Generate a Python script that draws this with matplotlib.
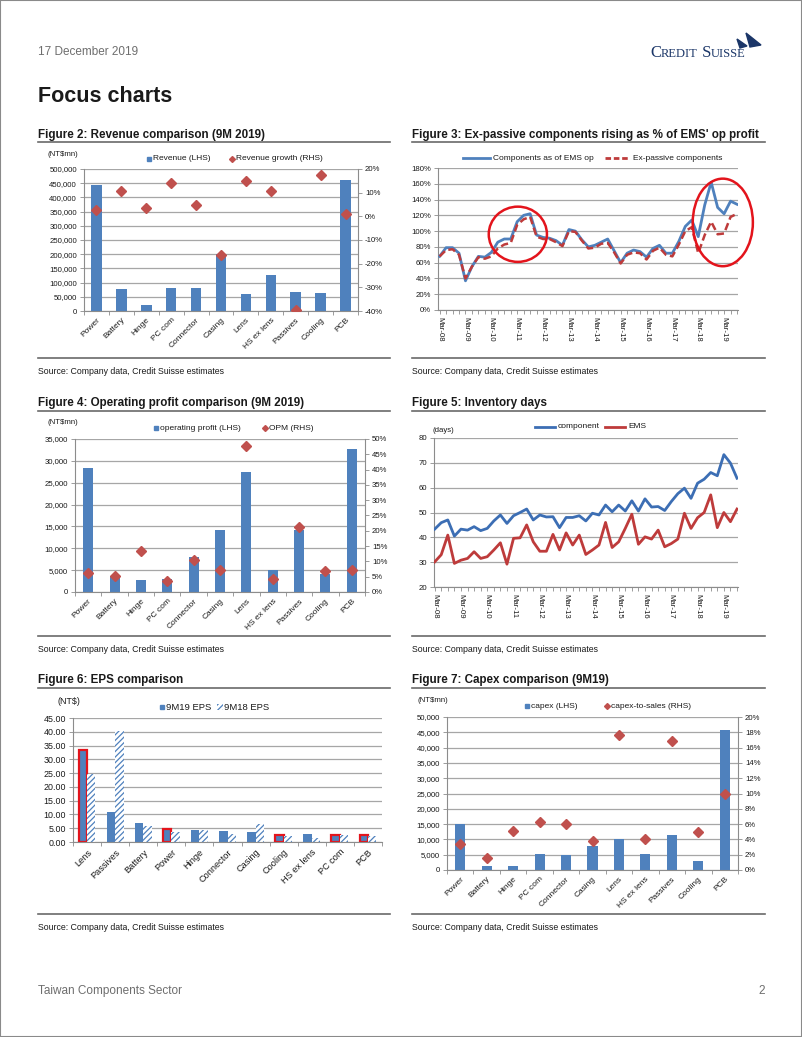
import numpy as np
import matplotlib
matplotlib.use("Agg")
import matplotlib.pyplot as plt
from matplotlib.patches import Ellipse, Polygon, Rectangle
from matplotlib.lines import Line2D
from matplotlib.ticker import FuncFormatter, MultipleLocator

plt.rcParams['font.family'] = ['Liberation Sans', 'DejaVu Sans']
plt.rcParams['hatch.linewidth'] = 0.9

# ---- data ----
categories = ['Power', 'Battery', 'Hinge', 'PC com', 'Connector', 'Casing',
              'Lens', 'HS ex lens', 'Passives', 'Cooling', 'PCB']

revenue = [443000, 76000, 21000, 80000, 80000, 199000,
           60000, 127000, 68000, 62000, 460000]
revenue_growth = [2.7, 10.5, 3.5, 14.0, 4.9, -16.4, 15.0, 10.8, -39.4, 17.3, 0.9]

op_profit = [28300, 3600, 2750, 3050, 8050, 14200, 27500, 5100, 14200, 4050, 32700]
opm = [6.3, 5.1, 13.5, 3.7, 10.3, 7.1, 47.6, 4.4, 21.3, 6.9, 7.1]

capex = [14900, 1300, 1300, 5200, 4900, 7800, 10100, 5200, 11600, 3000, 45900]
capex_to_sales = [3.4, 1.6, 5.1, 6.3, 6.0, 3.8, 17.7, 4.1, 16.9, 5.0, 10.0]

eps_categories = ['Lens', 'Passives', 'Battery', 'Power', 'Hinge', 'Connector',
                  'Casing', 'Cooling', 'HS ex lens', 'PC com', 'PCB']
eps_9m19 = [33.3, 10.9, 6.9, 4.7, 4.5, 4.0, 3.6, 2.7, 3.0, 2.4, 2.4]
eps_9m18 = [24.8, 40.4, 5.9, 3.5, 4.4, 3.0, 6.5, 2.1, 1.5, 2.7, 2.1]
eps_flagged = ['Lens', 'Power', 'Cooling', 'PC com', 'PCB']

quarters = [f"{m}-{y:02d}" for y in range(8, 20) for m in ('Mar', 'Jun', 'Sep', 'Dec')][:47]

comp_share = [68, 79, 79, 72, 37, 55, 68, 67, 73, 86, 90, 90,
              112, 120, 122, 95, 92, 91, 88, 82, 102, 100, 89, 80,
              82, 86, 90, 75, 60, 72, 76, 74, 67, 78, 82, 72,
              72, 87, 106, 114, 93, 133, 162, 130, 122, 138, 134]
ex_passive = [68, 76, 77, 70, 40, 55, 67, 65, 68, 78, 83, 85,
              108, 115, 118, 93, 90, 90, 86, 81, 100, 99, 88, 78,
              79, 84, 85, 73, 59, 70, 73, 72, 64, 75, 79, 70,
              68, 83, 100, 105, 72, 95, 112, 96, 97, 118, 122]

inv_component = [43.3, 45.9, 47.0, 40.5, 43.3, 42.9, 44.3, 42.7, 43.6, 46.6, 49.0, 45.6,
                 48.7, 50.0, 51.4, 47.0, 49.0, 48.2, 48.3, 43.9, 48.0, 48.0, 48.7, 46.6,
                 49.7, 49.0, 53.0, 50.3, 53.0, 50.6, 54.7, 50.6, 55.5, 52.2, 52.4, 50.8,
                 54.4, 57.6, 59.8, 55.7, 61.8, 63.4, 66.1, 64.8, 73.3, 69.9, 63.8]
inv_ems = [30.1, 33.0, 40.9, 29.5, 30.8, 31.5, 34.2, 31.5, 32.2, 34.9, 37.8, 29.2,
           39.6, 39.8, 45.0, 38.2, 34.4, 34.4, 41.2, 34.9, 41.8, 36.9, 40.9, 33.1,
           34.9, 36.9, 46.0, 35.9, 38.2, 43.6, 49.3, 37.2, 40.2, 39.3, 42.9, 36.2,
           37.5, 39.3, 49.7, 43.6, 47.9, 50.0, 57.1, 43.9, 50.0, 46.3, 51.4]

# ---- styling ----
W, H = 802, 1037
BLUE = '#4F81BD'
RED = '#C0504D'
LINE_RED = '#BE3B3B'
CIRCLE = '#E3141C'
GRID = '#A6A6A6'
AXC = '#8C8C8C'
TXT = '#1A1A1A'
GREYTXT = '#6E6E6E'
NAVY = '#1B3668'
TICK = 5.6

fig = plt.figure(figsize=(W / 100, H / 100), dpi=100)
renderer = fig.canvas.get_renderer()


def fx(x):
    return x / W


def fy(y):
    return 1 - y / H


def box(l, t, r, b):
    return [l / W, 1 - b / H, (r - l) / W, (b - t) / H]


def ftext(x, y, s, **kw):
    kw.setdefault('va', 'center')
    kw.setdefault('color', TXT)
    return fig.text(fx(x), fy(y), s, **kw)


def hline(x0, x1, y, color='#6A6A6A', lw=1.4):
    fig.add_artist(Line2D([fx(x0), fx(x1)], [fy(y), fy(y)], color=color, lw=lw,
                          transform=fig.transFigure))


def leg_marker(x, y, marker, label, ms, color=BLUE, size=6):
    fig.add_artist(Line2D([fx(x)], [fy(y)], marker=marker, ms=ms, color=color,
                          mec=color, ls='none', transform=fig.transFigure))
    ftext(x + 4, y, label, fontsize=size)


def leg_line(x0, x1, y, label, color, ls='-', size=6):
    fig.add_artist(Line2D([fx(x0), fx(x1)], [fy(y), fy(y)], color=color, lw=2, ls=ls,
                          transform=fig.transFigure))
    ftext(x1 + 3, y, label, fontsize=size)


def small_caps(x_right, y, parts, **kw):
    # measure first, then lay the pieces out so the run ends at x_right
    widths = []
    for s, size in parts:
        t = fig.text(0, 0, s, fontsize=size, **kw)
        widths.append(t.get_window_extent(renderer).width)
        t.remove()
    x = x_right - sum(widths)
    for (s, size), w in zip(parts, widths):
        fig.text(fx(x), fy(y), s, fontsize=size, va='baseline', **kw)
        x += w


def base_style(ax, right=False):
    ax.spines['top'].set_visible(False)
    ax.spines['right'].set_visible(right)
    for s in ('left', 'bottom', 'right'):
        ax.spines[s].set_color(AXC)
        ax.spines[s].set_linewidth(0.8)
    ax.tick_params(labelsize=TICK, colors=AXC, labelcolor=TXT, length=3, width=0.6, pad=2)
    ax.grid(axis='y', color=GRID, lw=0.9)
    ax.set_axisbelow(True)
    ax.set_facecolor('none')


def category_axis(ax, labels, size=6):
    n = len(labels)
    ax.set_xlim(-0.5, n - 0.5)
    ax.set_xticks(np.arange(n))
    ax.set_xticklabels(labels, rotation=45, ha='right', rotation_mode='anchor', fontsize=size)
    ax.tick_params(axis='x', which='major', length=0, pad=4)
    ax.set_xticks(np.arange(-0.5, n), minor=True)
    ax.tick_params(axis='x', which='minor', length=3, color=AXC, width=0.6)


def right_axis(ax, lo, hi, step):
    ax2 = ax.twinx()
    for s in ('top', 'left', 'bottom'):
        ax2.spines[s].set_visible(False)
    ax2.spines['right'].set_color(AXC)
    ax2.spines['right'].set_linewidth(0.8)
    ax2.set_ylim(lo, hi)
    ax2.yaxis.set_major_locator(MultipleLocator(step))
    ax2.yaxis.set_major_formatter(FuncFormatter(lambda v, p: f"{v:.0f}%"))
    ax2.tick_params(labelsize=TICK, colors=AXC, labelcolor=TXT, length=3, width=0.6, pad=2)
    return ax2


def time_axis(ax, labels):
    n = len(labels)
    ax.set_xticks(np.arange(0, n, 4))
    ax.set_xticklabels(labels[::4], rotation=-90, ha='center', va='top', fontsize=TICK)
    ax.tick_params(axis='x', which='major', length=3, pad=2)
    ax.set_xticks(np.arange(n), minor=True)
    ax.tick_params(axis='x', which='minor', length=3, color=AXC, width=0.6)


comma = FuncFormatter(lambda v, p: f"{v:,.0f}")
pct = FuncFormatter(lambda v, p: f"{v:.0f}%")

# ---- page header / footer ----
fig.add_artist(Rectangle((0, 0), 1, 1, fill=False, ec='#8A8A8A', lw=1.5,
                         transform=fig.transFigure))
ftext(38, 52, '17 December 2019', fontsize=8.5, color=GREYTXT)
ftext(38, 97, 'Focus charts', fontsize=15.5, weight='bold')
small_caps(746, 57, [('C', 12), ('REDIT', 9), (' S', 12), ('UISSE', 9)],
           color=NAVY, family=['Liberation Serif', 'DejaVu Serif'])
# small sail mark above the end of the name
fig.add_artist(Polygon([(fx(746), fy(33)), (fx(761), fy(45)), (fx(750), fy(47))],
                       closed=True, color=NAVY, transform=fig.transFigure))
fig.add_artist(Polygon([(fx(737), fy(39)), (fx(747), fy(46)), (fx(740), fy(48))],
                       closed=True, color=NAVY, transform=fig.transFigure))
ftext(38, 991, 'Taiwan Components Sector', fontsize=8.5, color=GREYTXT)
ftext(765, 991, '2', fontsize=8.5, color=GREYTXT, ha='right')

titles = [
    (38, 390, 135, 142, 372, 'Figure 2: Revenue comparison (9M 2019)'),
    (412, 765, 135, 142, 372, "Figure 3: Ex-passive components rising as % of EMS' op profit"),
    (38, 390, 403, 411, 650, 'Figure 4: Operating profit comparison (9M 2019)'),
    (412, 765, 403, 411, 650, 'Figure 5: Inventory days'),
    (38, 390, 680, 688, 928, 'Figure 6: EPS comparison'),
    (412, 765, 680, 688, 928, 'Figure 7: Capex comparison (9M19)'),
]
for x0, x1, ty, ry, sy, t in titles:
    ftext(x0, ty, t, fontsize=8.4, weight='bold')
    hline(x0, x1, ry, lw=1.2)
    hline(x0, x1, sy - 14, lw=1.2)
    ftext(x0, sy, 'Source: Company data, Credit Suisse estimates', fontsize=6.3)

x11 = np.arange(len(categories))

# ---- Figure 2 ----
ax = fig.add_axes(box(84, 169, 358, 311))
base_style(ax)
ax.bar(x11, revenue, width=0.42, color=BLUE, zorder=2)
ax.set_ylim(0, 500000)
ax.yaxis.set_major_locator(MultipleLocator(50000))
ax.yaxis.set_major_formatter(comma)
category_axis(ax, categories)
ax2 = right_axis(ax, -40, 20, 10)
ax2.plot(x11, revenue_growth, 'D', color=RED, ms=5, zorder=3)
ftext(48, 154, '(NT$mn)', fontsize=5.6)
leg_marker(149, 159, 's', 'Revenue (LHS)', 3)
leg_marker(232, 159, 'D', 'Revenue growth (RHS)', 3, color=RED)

# ---- Figure 3 ----
ax = fig.add_axes(box(438, 168, 738, 310))
base_style(ax)
t = np.arange(len(quarters))
ax.plot(t, comp_share, color=BLUE, lw=2, zorder=3)
ax.plot(t, ex_passive, color=LINE_RED, lw=1.8, ls=(0, (3, 1.5)), zorder=3)
ax.set_xlim(-0.25, len(quarters) - 0.85)
ax.set_ylim(0, 180)
ax.yaxis.set_major_locator(MultipleLocator(20))
ax.yaxis.set_major_formatter(pct)
time_axis(ax, quarters)
ax.add_patch(Ellipse((12.1, 96), 9.0, 70, fill=False, ec=CIRCLE, lw=1.8, clip_on=False, zorder=4))
ax.add_patch(Ellipse((43.8, 111), 9.3, 111, fill=False, ec=CIRCLE, lw=1.8, clip_on=False, zorder=4))
leg_line(463, 490, 158, 'Components as of EMS op', BLUE)
leg_line(605, 630, 158, 'Ex-passive components', LINE_RED, ls=(0, (2, 1)))

# ---- Figure 4 ----
ax = fig.add_axes(box(75, 439, 365, 592))
base_style(ax)
ax.bar(x11, op_profit, width=0.38, color=BLUE, zorder=2)
ax.set_ylim(0, 35000)
ax.yaxis.set_major_locator(MultipleLocator(5000))
ax.yaxis.set_major_formatter(comma)
category_axis(ax, categories)
ax2 = right_axis(ax, 0, 50, 5)
ax2.plot(x11, opm, 'D', color=RED, ms=5, zorder=3)
ftext(48, 423, '(NT$mn)', fontsize=5.6)
leg_marker(156, 428, 's', 'operating profit (LHS)', 3)
leg_marker(265, 428, 'D', 'OPM (RHS)', 3, color=RED)

# ---- Figure 5 ----
ax = fig.add_axes(box(434, 438, 738, 587))
base_style(ax)
ax.plot(t, inv_component, color='#3C6EB4', lw=2, zorder=3)
ax.plot(t, inv_ems, color=LINE_RED, lw=2, zorder=3)
ax.set_xlim(-0.1, len(quarters) - 0.85)
ax.set_ylim(20, 80)
ax.yaxis.set_major_locator(MultipleLocator(10))
time_axis(ax, quarters)
ftext(433, 431, '(days)', fontsize=5.6)
leg_line(535, 555, 427, 'component', '#3C6EB4')
leg_line(605, 625, 427, 'EMS', LINE_RED)

# ---- Figure 6 ----
ax = fig.add_axes(box(73, 718, 382, 842))
base_style(ax)
xe = np.arange(len(eps_categories))
edge = [CIRCLE if c in eps_flagged else BLUE for c in eps_categories]
lws = [1.6 if c in eps_flagged else 0 for c in eps_categories]
ax.bar(xe - 0.15, eps_9m19, width=0.3, color=BLUE, edgecolor=edge, linewidth=lws, zorder=2)
ax.bar(xe + 0.15, eps_9m18, width=0.3, color='white', edgecolor=BLUE, hatch='//////',
       linewidth=0, zorder=2)
ax.set_ylim(0, 45)
ax.yaxis.set_major_locator(MultipleLocator(5))
ax.yaxis.set_major_formatter(FuncFormatter(lambda v, p: f"{v:.2f}"))
ax.tick_params(axis='y', labelsize=6.4)
category_axis(ax, eps_categories, size=6.6)
ftext(57, 701, '(NT$)', fontsize=6.4)
leg_marker(162, 707, 's', '9M19 EPS', 3.5, size=6.8)
fig.add_artist(Rectangle((fx(217), fy(710)), 6 / W, 6 / H, facecolor='white', edgecolor=BLUE,
                         hatch='//////', lw=0, transform=fig.transFigure))
ftext(224, 707, '9M18 EPS', fontsize=6.8)

# ---- Figure 7 ----
ax = fig.add_axes(box(447, 717, 738, 870))
base_style(ax)
ax.bar(x11, capex, width=0.38, color=BLUE, zorder=2)
ax.set_ylim(0, 50000)
ax.yaxis.set_major_locator(MultipleLocator(5000))
ax.yaxis.set_major_formatter(comma)
category_axis(ax, categories)
ax2 = right_axis(ax, 0, 20, 2)
ax2.plot(x11, capex_to_sales, 'D', color=RED, ms=5, zorder=3)
ftext(418, 700, '(NT$mn)', fontsize=5.6)
leg_marker(527, 706, 's', 'capex (LHS)', 3)
leg_marker(607, 706, 'D', 'capex-to-sales (RHS)', 3, color=RED)

fig.savefig('out.png', dpi=100)
